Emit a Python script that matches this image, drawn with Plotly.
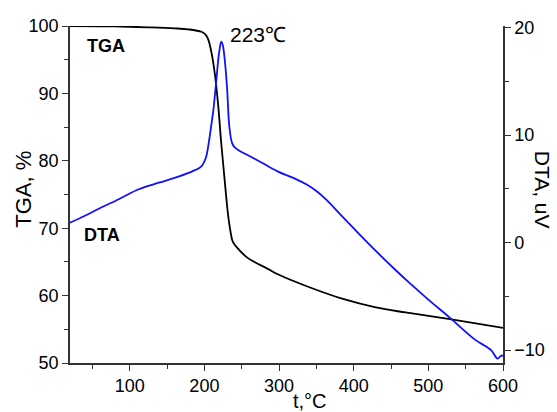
import plotly.graph_objects as go

# TGA curve (left axis, %)
t_tga = [20, 80, 126, 160, 178.6, 196, 201, 205, 209.4, 213.8, 218.2, 222.6, 227.1,
         231.5, 235, 238, 244.7, 257.9, 284.3, 297.6, 341.6, 385.7, 429.7, 469.4, 529, 600]
tga = [100, 99.95, 99.8, 99.65, 99.5, 99.15, 98.8, 98.06, 96.1, 93.1, 88.6, 82.6, 77.2,
       72.2, 69.5, 68.0, 67.0, 65.6, 64.0, 63.2, 61.2, 59.5, 58.25, 57.5, 56.5, 55.2]

# DTA curve (right axis, uV)
t_dta = [20, 40, 60, 86, 112, 139, 165, 183, 196, 202, 205, 209, 212, 216, 219.6, 222.6,
         224.5, 226.7, 230.3, 233.4, 236.9, 240, 245.7, 259, 276.5, 298.6, 320.6, 337, 350,
         364, 381, 408, 430, 456, 474, 500, 529, 562, 584, 592.7, 597, 600]
dta = [1.85, 2.5, 3.2, 4.06, 4.96, 5.57, 6.13, 6.6, 7.1, 7.9, 8.9, 10.8, 12.3, 15.1, 17.6, 18.7,
       18.4, 17.4, 14.5, 10.8, 9.3, 8.9, 8.6, 8.1, 7.45, 6.6, 5.98, 5.4, 4.8,
       3.95, 2.7, 0.75, -0.8, -2.55, -3.7, -5.3, -7.0, -9.0, -10.0, -10.8, -10.55, -10.5]

x_ticks = [100, 200, 300, 400, 500, 600]
FONT = "Liberation Sans, Arial, sans-serif"

fig = go.Figure()
fig.add_trace(go.Scatter(x=t_tga, y=tga, mode="lines", line=dict(color="black", width=1.8),
                         line_shape="spline", yaxis="y", showlegend=False))
fig.add_trace(go.Scatter(x=t_dta, y=dta, mode="lines", line=dict(color="#1010ff", width=1.8),
                         line_shape="spline", yaxis="y2", showlegend=False))

axis_common = dict(showline=True, linecolor="#333", linewidth=1.5, ticks="outside",
                   ticklen=6, tickwidth=1.3, tickcolor="#333", showgrid=False, zeroline=False,
                   tickfont=dict(family=FONT, size=18, color="black"))

fig.update_layout(
    width=557, height=412,
    margin=dict(l=70, r=48, t=26, b=49),
    paper_bgcolor="white", plot_bgcolor="white",
    xaxis=dict(range=[20, 600], tickvals=x_ticks,
               minor=dict(dtick=50, tick0=0, ticklen=4, ticks="outside", tickcolor="#333"),
               **axis_common),
    yaxis=dict(range=[50, 100], dtick=10, tick0=0,
               minor=dict(dtick=5, tick0=0, ticklen=4, ticks="outside", tickcolor="#333"),
               **axis_common),
    yaxis2=dict(range=[-11.2, 20.15], dtick=10, tick0=0, overlaying="y", side="right",
                anchor="x",
                minor=dict(dtick=5, tick0=0, ticklen=4, ticks="outside", tickcolor="#333"),
                **axis_common),
)

fig.add_annotation(text="TGA, %", xref="paper", yref="paper", x=-0.1093, y=0.516,
                   xanchor="center", yanchor="middle",
                   textangle=-90, showarrow=False, font=dict(family=FONT, size=22, color="black"))
fig.add_annotation(text="DTA, uV", xref="paper", yref="paper", x=1.091, y=0.513,
                   xanchor="center", yanchor="middle",
                   textangle=90, showarrow=False, font=dict(family=FONT, size=21, color="black"))
fig.add_annotation(text="t,°C", xref="paper", yref="paper", x=0.5535, y=-0.1128,
                   xanchor="center", yanchor="middle",
                   showarrow=False, font=dict(family=FONT, size=20, color="black"))
fig.add_annotation(text="<b>TGA</b>", x=68, y=97.0, xref="x", yref="y", showarrow=False,
                   xanchor="center", yanchor="middle",
                   font=dict(family=FONT, size=18, color="black"))
fig.add_annotation(text="<b>DTA</b>", x=63, y=69.0, xref="x", yref="y", showarrow=False,
                   xanchor="center", yanchor="middle",
                   font=dict(family=FONT, size=18, color="black"))
fig.add_annotation(text="223℃", x=272, y=98.8, xref="x", yref="y", showarrow=False,
                   xanchor="center", yanchor="middle",
                   font=dict(family=FONT, size=21, color="black"))

fig.write_html("out.html")
